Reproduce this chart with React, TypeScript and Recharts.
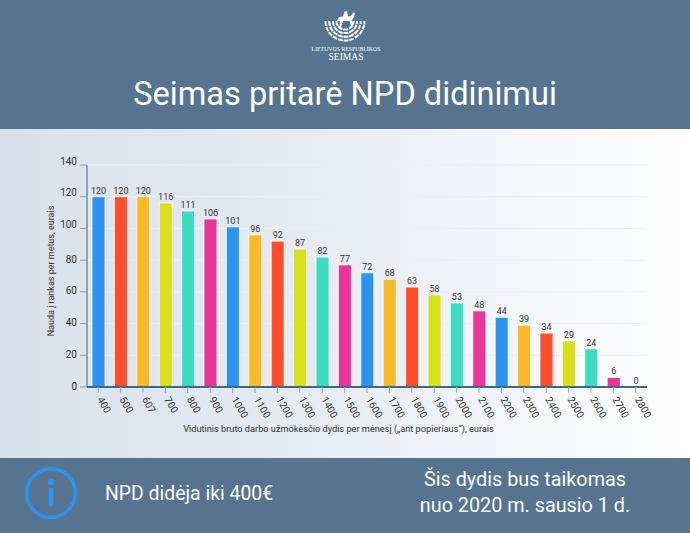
import React from "react";
import { BarChart, Bar, XAxis, YAxis, CartesianGrid, Cell, LabelList } from "recharts";

const categories = ["400","500","607","700","800","900","1000","1100","1200","1300","1400","1500","1600","1700","1800","1900","2000","2100","2200","2300","2400","2500","2600","2700","2800"];
const values = [120,120,120,116,111,106,101,96,92,87,82,77,72,68,63,58,53,48,44,39,34,29,24,6,0];
const BLUE = "#2e93ee", RED = "#ff4f2a", ORANGE = "#fbb829", YELLOW = "#d8df1c", TEAL = "#3cdcc0", PINK = "#e7359a";
const barColors = [BLUE,RED,ORANGE,YELLOW,TEAL,PINK,BLUE,ORANGE,RED,YELLOW,TEAL,PINK,BLUE,ORANGE,RED,YELLOW,TEAL,PINK,BLUE,ORANGE,RED,YELLOW,TEAL,PINK,BLUE];
const yTicks = [0,20,40,60,80,100,120,140];
const title = "Seimas pritarė NPD didinimui";
const xTitle = "Vidutinis bruto darbo užmokesčio dydis per mėnesį („ant popieriaus“), eurais";
const yTitle = "Nauda į rankas per metus, eurais";

const data = categories.map((c, i) => ({ c, v: values[i] }));
const FONT = "Roboto, sans-serif";
const BAND = "#56748f";

const XTick = (p: any) => (
  <text x={p.x + 1} y={p.y + 3} fontSize={10} fontFamily={FONT} fill="#333"
    transform={`rotate(60 ${p.x + 1} ${p.y + 3})`} textAnchor="start" dominantBaseline="middle">
    {p.payload.value}
  </text>
);

const YTick = (p: any) => (
  <text x={p.x - 2} y={p.y + (p.payload.value >= 100 ? -3 : 0)} fontSize={10} fontFamily={FONT} fill="#333"
    textAnchor="end" dominantBaseline="middle">
    {p.payload.value}
  </text>
);

const BarLabel = (p: any) => (
  <text x={p.x + p.width / 2} y={p.y - 3} textAnchor="middle" fontSize={9} fontFamily={FONT} fill="#333">{p.value}</text>
);

const Logo = () => (
  <svg width={44} height={36} viewBox="0 0 44 36" style={{ position: "absolute", left: 323, top: 10 }}>
    {[19.5, 15.8, 12.1, 8.6].map((r, i) => (
      <path key={i} d={`M ${22 - r} 11 A ${r} ${r} 0 0 0 ${22 + r} 11`} fill="none" stroke="#fff"
        strokeWidth={2} strokeDasharray="5 0.8" />
    ))}
    <path d="M14 11 L16 7 L20 6.5 L21.5 1.5 L24 1 L25 6.5 L28 6 L30 2.5 L32 3 L31 7 L29 10 L30 16 L28 16 L26.5 11 L20 11 L18 17 L16.5 17 L17 11 Z" fill="#fff" />
  </svg>
);

const Info = () => (
  <svg width={54} height={54} viewBox="0 0 54 54" style={{ position: "absolute", left: 24, top: 466 }}>
    <circle cx={27} cy={27} r={24.3} fill="none" stroke="#2e93ee" strokeWidth={3.4} />
    <circle cx={27} cy={16} r={3} fill="#2e93ee" />
    <rect x={24.6} y={22} width={4.8} height={18.5} rx={1} fill="#2e93ee" />
  </svg>
);

export default function App() {
  return (
    <div style={{ position: "absolute", left: 0, top: 0, width: 690, height: 533, overflow: "hidden", fontFamily: FONT,
      background: "linear-gradient(90deg,#d8e1eb 0%,#e6ebf3 45%,#ffffff 100%)" }}>
      <div style={{ position: "absolute", left: 0, top: 0, width: 690, height: 129, background: BAND }} />
      <div style={{ position: "absolute", left: 0, top: 458, width: 690, height: 75, background: BAND }} />
      <Logo />
      <div style={{ position: "absolute", left: 0, width: 692, top: 45, textAlign: "center", color: "#fff", fontFamily: "'Liberation Serif', serif", fontSize: 5.8, lineHeight: "8px" }}>LIETUVOS RESPUBLIKOS</div>
      <div style={{ position: "absolute", left: 0, width: 692, top: 52, textAlign: "center", color: "#fff", fontFamily: "'Liberation Serif', serif", fontSize: 9.5, lineHeight: "11px" }}>SEIMAS</div>
      <div style={{ position: "absolute", left: 0, width: 690, top: 74, textAlign: "center", color: "#fff", fontSize: 32.6, lineHeight: "40px" }}>{title}</div>

      <div style={{ position: "absolute", left: 0, top: 0 }}>
        <BarChart width={690} height={533} data={data} margin={{ top: 165, right: 43, bottom: 96, left: 47 }} barCategoryGap={0}>
          <CartesianGrid vertical={false} stroke="#eceef1" strokeWidth={1} />
          <Bar dataKey="v" isAnimationActive={false} barSize={13} stroke="#fff" strokeWidth={1} strokeOpacity={0.8} minPointSize={0.01}>
            {data.map((d, i) => <Cell key={d.c} fill={barColors[i]} stroke={d.v === 0 ? "none" : "#fff"} />)}
            <LabelList dataKey="v" content={<BarLabel />} />
          </Bar>
          <XAxis dataKey="c" interval={0} tick={<XTick />} height={50} tickLine={{ stroke: "#8ba0b5" }} tickSize={6}
            axisLine={{ stroke: "#3f6788", strokeWidth: 2 }} />
          <YAxis domain={[0, 140]} ticks={yTicks} width={40} interval={0}
            tick={<YTick />} tickSize={7} tickMargin={1}
            tickLine={{ stroke: "#8ba0b5" }} axisLine={{ stroke: "#3f6788", strokeWidth: 1 }} />
        </BarChart>
      </div>

      <div style={{ position: "absolute", left: 87, width: 503, top: 423, textAlign: "center", fontSize: 9.2, lineHeight: "12px", color: "#333", whiteSpace: "nowrap" }}>{xTitle}</div>
      <div style={{ position: "absolute", left: 51, top: 271, width: 0, height: 0 }}>
        <div style={{ position: "absolute", transform: "translate(-50%,-50%) rotate(-90deg)", fontSize: 9, color: "#333", whiteSpace: "nowrap" }}>{yTitle}</div>
      </div>

      <Info />
      <div style={{ position: "absolute", left: 105, top: 483, color: "#fff", fontSize: 19.4, lineHeight: "22px", whiteSpace: "nowrap" }}>NPD didėja iki 400€</div>
      <div style={{ position: "absolute", left: 395, width: 260, top: 467, textAlign: "center", color: "#fff", fontSize: 19.8, lineHeight: "26px" }}>
        Šis dydis bus taikomas<br />nuo 2020 m. sausio 1 d.
      </div>
    </div>
  );
}
